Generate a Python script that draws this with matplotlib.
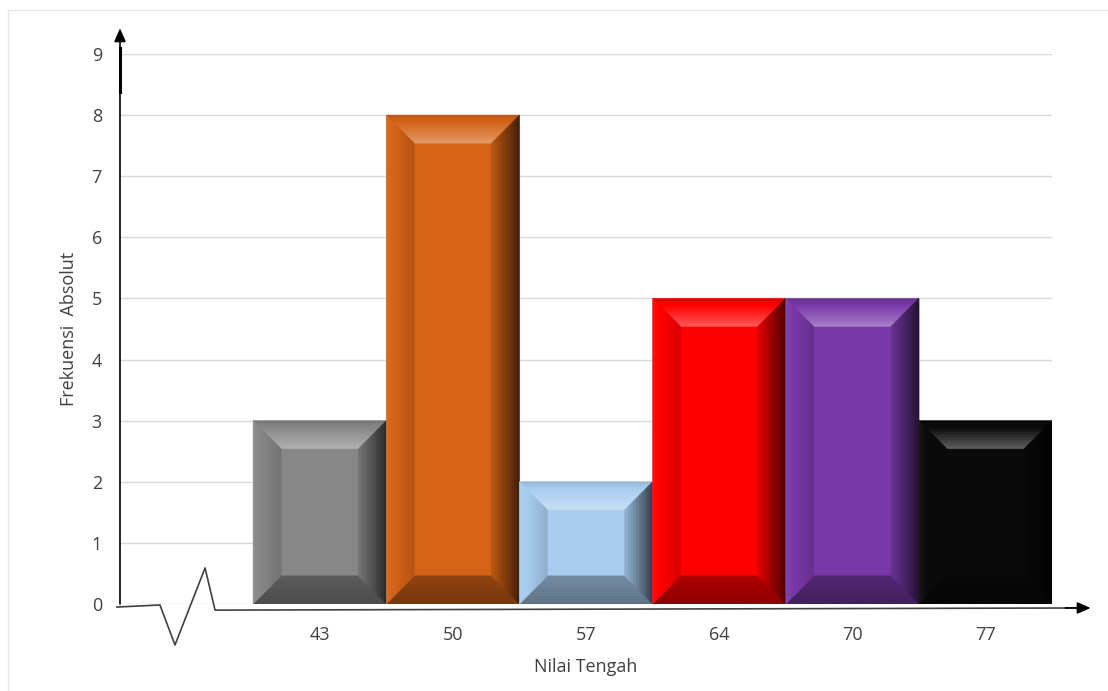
import numpy as np
import matplotlib
matplotlib.use("Agg")
import matplotlib.pyplot as plt
from matplotlib.patches import Polygon
from matplotlib.colors import to_rgb

# data
categories = ["", "43", "50", "57", "64", "70", "77"]
frequencies = [0, 3, 8, 2, 5, 5, 3]
bar_colors = ["none", "#878787", "#D46316", "#A9CDEF", "#FF0000", "#7839A8", "#0A0A0A"]
y_ticks = [0, 1, 2, 3, 4, 5, 6, 7, 8, 9]

plt.rcParams['font.family'] = ['Open Sans', 'DejaVu Sans']


def shade(color, f):
    c = np.array(to_rgb(color))
    if f >= 0:
        return tuple(c + (1 - c) * f)
    return tuple(c * (1 + f))


def bevel_bar(ax, x0, x1, h, color, dx=0.21, dy=0.46, n=10):
    ax.add_patch(Polygon([(x0, 0), (x1, 0), (x1, h), (x0, h)], closed=True,
                         facecolor=color, edgecolor="#c8c8c8", lw=0.8, zorder=3))
    # (start, end) shading from outer edge to inner edge
    profiles = {"top": (-0.12, 0.35), "bottom": (-0.45, -0.32),
                "left": (0.06, -0.15), "right": (-0.7, -0.12)}
    for k in range(n):
        t0, t1 = k / n, (k + 1) / n
        for side, (a, b) in profiles.items():
            f = a + (b - a) * (k + 0.5) / n
            if side == "top":
                pts = [(x0 + t0 * dx, h - t0 * dy), (x1 - t0 * dx, h - t0 * dy),
                       (x1 - t1 * dx, h - t1 * dy), (x0 + t1 * dx, h - t1 * dy)]
            elif side == "bottom":
                pts = [(x0 + t0 * dx, t0 * dy), (x1 - t0 * dx, t0 * dy),
                       (x1 - t1 * dx, t1 * dy), (x0 + t1 * dx, t1 * dy)]
            elif side == "left":
                pts = [(x0 + t0 * dx, t0 * dy), (x0 + t0 * dx, h - t0 * dy),
                       (x0 + t1 * dx, h - t1 * dy), (x0 + t1 * dx, t1 * dy)]
            else:
                pts = [(x1 - t0 * dx, t0 * dy), (x1 - t0 * dx, h - t0 * dy),
                       (x1 - t1 * dx, h - t1 * dy), (x1 - t1 * dx, t1 * dy)]
            c = shade(color, f)
            ax.add_patch(Polygon(pts, closed=True, facecolor=c,
                                 edgecolor=c, lw=0.4, zorder=4))


fig = plt.figure(figsize=(11.08, 6.91), dpi=100)
ax = fig.add_axes([0.1083, 0.1259, 0.8412, 0.796])

x = np.arange(len(categories))
for xi, val, col in zip(x, frequencies, bar_colors):
    if val > 0:
        bevel_bar(ax, xi - 0.5, xi + 0.5, val, col)

ax.set_xlim(-0.5, len(categories) - 0.5)
ax.set_ylim(0, 9)
ax.set_yticks(y_ticks)
ax.set_xticks(x)
ax.set_xticklabels(categories)
ax.tick_params(axis="both", length=0, labelsize=13, colors="#404040")
ax.tick_params(axis="y", pad=13)
ax.tick_params(axis="x", pad=16)
ax.yaxis.grid(True, color="#d9d9d9", lw=1)
ax.set_axisbelow(True)
for s in ax.spines.values():
    s.set_visible(False)

ax.set_ylabel("Frekuensi  Absolut", fontsize=13, color="#404040", labelpad=10)
ax.set_xlabel("Nilai Tengah", fontsize=13, color="#404040", labelpad=10)

# y axis with arrow
ax.annotate("", xy=(-0.5, 9.42), xytext=(-0.5, 0.0), xycoords="data",
            arrowprops=dict(arrowstyle="-|>,head_width=0.35,head_length=0.8",
                            color="black", lw=1.2, shrinkA=0, shrinkB=0),
            annotation_clip=False, zorder=6)
ax.plot([-0.5, -0.5], [8.38, 9.1], color="black", lw=2.2, clip_on=False, zorder=6)

# x axis with break mark and arrow
brk_x = [-0.523, -0.2, -0.087, 0.139, 0.214, 6.7]
brk_y = [-0.05, -0.016, -0.67, 0.59, -0.1, -0.065]
ax.plot(brk_x, brk_y, color="#404040", lw=1.2, clip_on=False, zorder=6)
ax.annotate("", xy=(6.79, -0.065), xytext=(6.6, -0.065),
            arrowprops=dict(arrowstyle="-|>,head_width=0.35,head_length=0.8",
                            color="black", lw=1.2, shrinkA=0, shrinkB=0),
            annotation_clip=False, zorder=6)

# faint chart frame
fig.add_artist(plt.Line2D([0.0072, 0.0072], [0, 0.985], color="#e6e6e6", lw=1))
fig.add_artist(plt.Line2D([0.0072, 1], [0.985, 0.985], color="#e6e6e6", lw=1))

fig.savefig("out.png", dpi=100)
